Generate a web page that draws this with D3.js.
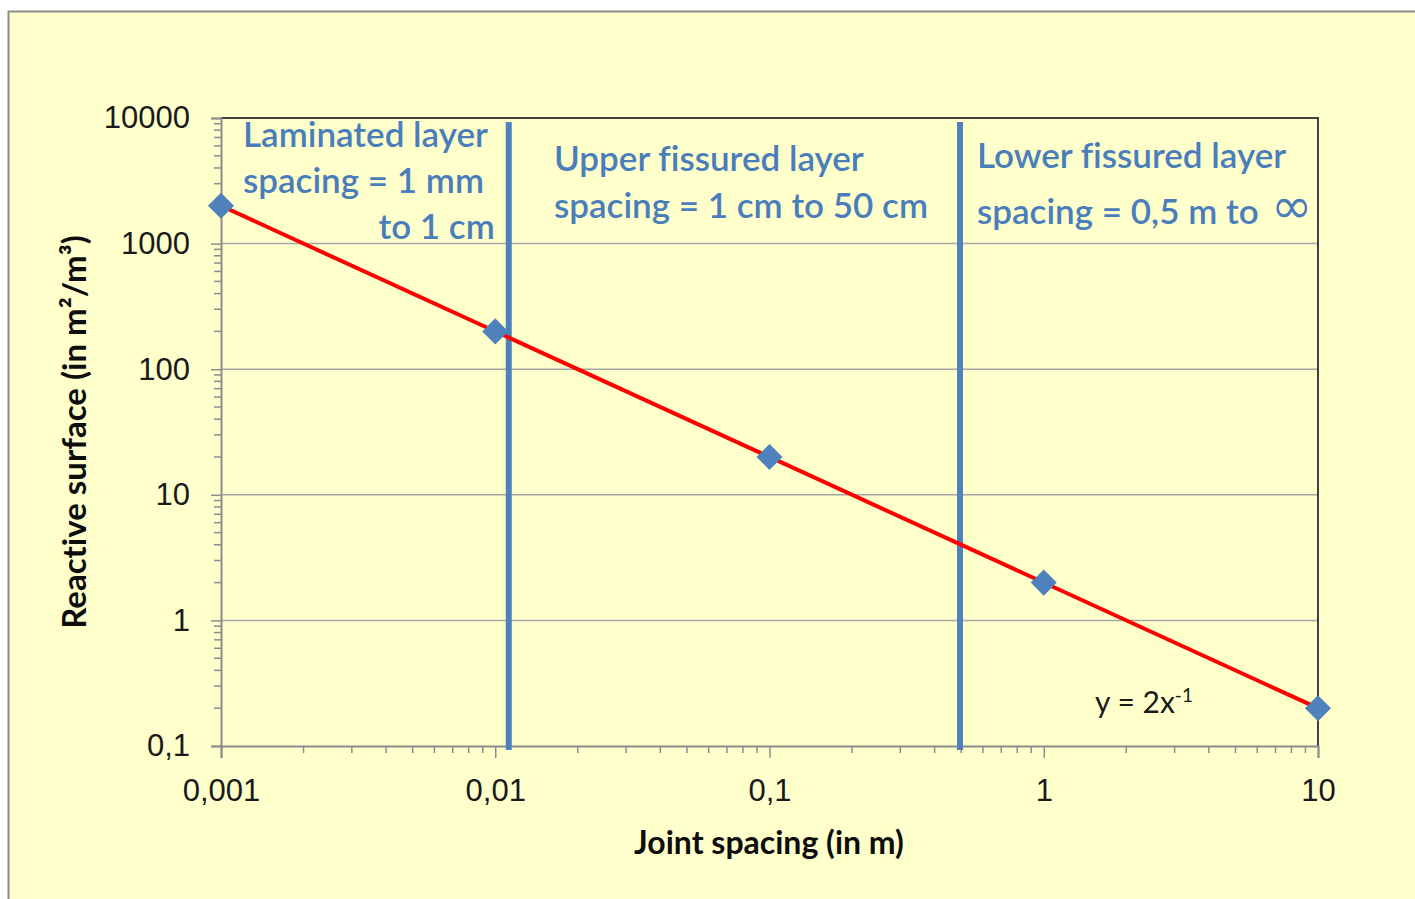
<!DOCTYPE html>
<html>
<head>
<meta charset="utf-8">
<script src="https://cdn.jsdelivr.net/npm/d3@7"></script>
<style>
    html, body { margin: 0; padding: 0; background: #ffffff; }
    svg { display: block; font-family: Lato, "Open Sans", sans-serif; font-variant-ligatures: none; }
    .axis text { fill: #1a1a1a; font-size: 31px; }
</style>
</head>
<body>
<svg id="mainChart" width="1415" height="899"></svg>
<script>
const jointSpacing = [0.001, 0.01, 0.1, 1, 10];
const reactiveSurface = [2000, 200, 20, 2, 0.2];

const xTicks = [0.001, 0.01, 0.1, 1, 10];
const xTickLabels = ["0,001", "0,01", "0,1", "1", "10"];
const yTicks = [0.1, 1, 10, 100, 1000, 10000];
const yTickLabels = ["0,1", "1", "10", "100", "1000", "10000"];

// power trendline y = 2x^-1, end points
const trendX = [0.001, 10];
const trendY = [2000, 0.2];

// layer boundaries (joint spacing in m)
const boundaries = [0.0112, 0.495];

const svg = d3.select("#mainChart");
const plotLeft = 221, plotRight = 1318, plotTop = 118, plotBottom = 746;
const blue = "#4f81bd";

// chart area
svg.append("rect")
    .attr("x", 8.5).attr("y", 11.5)
    .attr("width", 1440).attr("height", 920)
    .attr("fill", "#ffffcc")
    .attr("stroke", "#8c8c8c")
    .attr("stroke-width", 2);

const scaleX = d3.scaleLog().domain([0.001, 10]).range([plotLeft, plotRight]);
const scaleY = d3.scaleLog().domain([0.1, 10000]).range([plotBottom, plotTop]);

// minor ticks 2..9 in each decade
const minorX = [];
for (let d = 0.001; d < 10; d *= 10) for (let k = 2; k <= 9; k++) minorX.push(d * k);
const minorY = [];
for (let d = 0.1; d < 10000; d *= 10) for (let k = 2; k <= 9; k++) minorY.push(d * k);

// gridlines
svg.append("g")
    .selectAll("line")
    .data(yTicks.slice(1, -1))
    .join("line")
    .attr("x1", plotLeft).attr("x2", plotRight)
    .attr("y1", d => scaleY(d)).attr("y2", d => scaleY(d))
    .attr("stroke", "#a6a6a6")
    .attr("stroke-width", 1.5);

// plot frame top + right
svg.append("path")
    .attr("d", `M${plotLeft},${plotTop}H${plotRight}V${plotBottom}`)
    .attr("fill", "none")
    .attr("stroke", "#404040")
    .attr("stroke-width", 2);

// x axis
const axisX = d3.axisBottom(scaleX)
    .tickValues(xTicks)
    .tickFormat((d, i) => xTickLabels[i])
    .tickSize(12)
    .tickPadding(21);
const gx = svg.append("g")
    .classed("axis", true)
    .attr("transform", `translate(0, ${plotBottom})`)
    .call(axisX);
gx.select(".domain").attr("stroke", "#8c8c8c").attr("stroke-width", 2);
gx.selectAll(".tick line").attr("stroke", "#8c8c8c").attr("stroke-width", 1.5);
gx.selectAll("text").attr("fill", "#1a1a1a");
svg.append("g")
    .selectAll("line")
    .data(minorX)
    .join("line")
    .attr("x1", d => scaleX(d)).attr("x2", d => scaleX(d))
    .attr("y1", plotBottom).attr("y2", plotBottom + 7)
    .attr("stroke", "#8c8c8c")
    .attr("stroke-width", 1.5);

// y axis
const axisY = d3.axisLeft(scaleY)
    .tickValues(yTicks)
    .tickFormat((d, i) => yTickLabels[i])
    .tickSize(10)
    .tickPadding(21);
const gy = svg.append("g")
    .classed("axis", true)
    .attr("transform", `translate(${plotLeft}, 0)`)
    .call(axisY);
gy.select(".domain").attr("stroke", "#8c8c8c").attr("stroke-width", 2);
gy.selectAll(".tick line").attr("stroke", "#8c8c8c").attr("stroke-width", 1.5);
gy.selectAll("text").attr("fill", "#1a1a1a");
svg.append("g")
    .selectAll("line")
    .data(minorY)
    .join("line")
    .attr("x1", plotLeft - 7).attr("x2", plotLeft)
    .attr("y1", d => scaleY(d)).attr("y2", d => scaleY(d))
    .attr("stroke", "#8c8c8c")
    .attr("stroke-width", 1.5);

// layer boundaries
svg.append("g")
    .selectAll("line")
    .data(boundaries)
    .join("line")
    .attr("x1", d => scaleX(d)).attr("x2", d => scaleX(d))
    .attr("y1", plotTop + 4).attr("y2", plotBottom + 4)
    .attr("stroke", blue)
    .attr("stroke-width", 6);

// trendline
svg.append("line")
    .attr("x1", scaleX(trendX[0])).attr("y1", scaleY(trendY[0]))
    .attr("x2", scaleX(trendX[1])).attr("y2", scaleY(trendY[1]))
    .attr("stroke", "#ff0000")
    .attr("stroke-width", 4);

// data points
svg.append("g")
    .selectAll("path.point")
    .data(jointSpacing)
    .join("path")
    .classed("point", true)
    .attr("d", d3.symbol(d3.symbolSquare, 340))
    .attr("transform", (d, i) => `translate(${scaleX(d)}, ${scaleY(reactiveSurface[i])}) rotate(45)`)
    .attr("fill", blue);

// layer labels
const lab = svg.append("g").attr("fill", "#4a7ebb")
    .style("font-size", "35px").style("font-weight", "600");
lab.append("text").attr("x", 243).attr("y", 147).text("Laminated layer");
lab.append("text").attr("x", 243).attr("y", 193).text("spacing = 1 mm");
lab.append("text").attr("x", scaleX(boundaries[0]) - 14).attr("y", 239).attr("text-anchor", "end").text("to 1 cm");
lab.append("text").attr("x", 554).attr("y", 171).text("Upper fissured layer");
lab.append("text").attr("x", 554).attr("y", 218).text("spacing = 1 cm to 50 cm");
lab.append("text").attr("x", 977).attr("y", 168).text("Lower fissured layer");
lab.append("text").attr("x", 977).attr("y", 224).text("spacing = 0,5 m to");
lab.append("text").attr("x", 1271).attr("y", 223)
    .style("font-family", "'DejaVu Sans', sans-serif").style("font-weight", "normal")
    .style("font-size", "50px").text("\u221e");

// equation
const eq = svg.append("text")
    .attr("x", 1095).attr("y", 713)
    .attr("fill", "#1a1a1a")
    .style("font-size", "30px");
eq.append("tspan").text("y = 2x");
eq.append("tspan").attr("dy", -11).style("font-size", "19px").text("-1");

// axis titles
svg.append("text")
    .attr("x", 769).attr("y", 854)
    .attr("text-anchor", "middle")
    .style("font-size", "32px").style("font-weight", "bold")
    .attr("fill", "#0d0d0d")
    .text("Joint spacing (in m)");

svg.append("text")
    .attr("transform", "translate(86, 432) rotate(-90)")
    .attr("text-anchor", "middle")
    .style("font-size", "33px").style("font-weight", "bold")
    .attr("fill", "#0d0d0d")
    .text("Reactive surface (in m\u00b2/m\u00b3)");
</script>
</body>
</html>
